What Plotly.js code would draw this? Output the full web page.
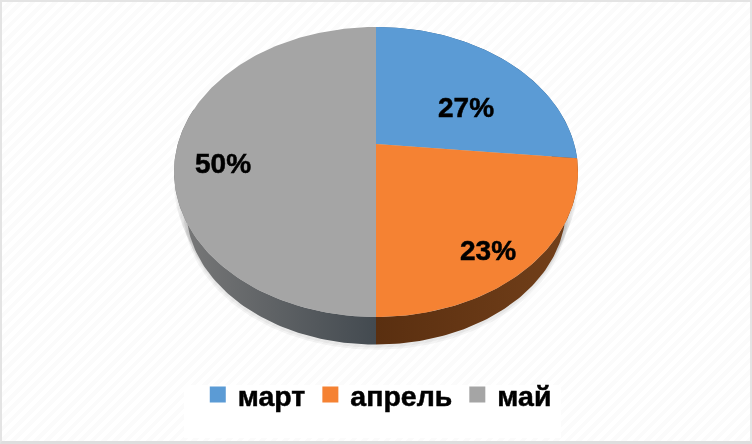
<!DOCTYPE html>
<html><head><meta charset="utf-8">
<script src="https://cdn.plot.ly/plotly-3.0.0.min.js"></script>
<style>
html,body{margin:0;padding:0;width:752px;height:444px;overflow:hidden;background:#fff}
#frame{position:absolute;left:0;top:0;width:752px;height:444px;box-sizing:border-box;
 border:2px solid #e4e4e4;border-bottom:3px solid #dedede;
 background:repeating-linear-gradient(135deg,#ffffff 0 4px,#fbfbfb 4px 8px)}
#chart{position:absolute;left:0;top:0;width:752px;height:444px;filter:blur(0.45px)}
#chart .annotation-text,#chart .legendtext{stroke:#000;stroke-width:0.5px}
</style></head><body><div id="frame"></div><div id="chart"></div>
<script>
var categories = ['март','апрель','май'];
var values = [26.6, 23.4, 50];
var colors = ['#5B9BD5','#F58233','#A5A5A5'];
var wallStops = [['#2f5f8c','#2f5f8c'],['#5a2f10','#73401a'],['#7a7a7a','#434a50']];
var labelX = [466,488,223];
var labelY = [107,250,163];

var cx=376, cy=144, rimC=198.2, rimB=139.6, k=0.193, wallScale=0.94, wallDrop=38;
function proj(thetaDeg, r, scale, drop){
  var t=thetaDeg*Math.PI/180, u=r*Math.sin(t), v=r*Math.cos(t), d=1+k*v;
  return [cx+rimC*scale*u/d, cy+drop-rimB*scale*v/d];
}
function arc(a,b,scale,drop){
  var n=Math.max(2,Math.ceil(Math.abs(b-a))), out=[];
  for(var i=0;i<=n;i++){out.push(proj(a+(b-a)*i/n,1,scale,drop));}
  return out;
}
function poly(pts,extra){
  var o={type:'scatter',mode:'lines',x:pts.map(function(p){return p[0]}),y:pts.map(function(p){return p[1]}),
    fill:'toself',line:{width:0},hoverinfo:'skip',showlegend:false};
  for(var e in extra)o[e]=extra[e];
  return o;
}
var total=values.reduce(function(a,b){return a+b},0), traces=[], start=0, spans=[];
values.forEach(function(v){var s=v/total*360;spans.push([start,start+s]);start+=s;});

// soft shadow under the disc
[[1.0,12],[0.99,18],[0.975,26],[0.96,33]].forEach(function(g){
  traces.push(poly(arc(0,360,g[0],g[1]),{fillcolor:'rgba(60,60,60,0.05)'}));
});
[[wallScale+0.012,wallDrop+3],[wallScale+0.006,wallDrop+2]].forEach(function(g){
  traces.push(poly(arc(0,360,g[0],g[1]),{fillcolor:'rgba(60,60,60,0.06)'}));
});
// side walls
spans.forEach(function(s,i){
  var a=s[0], b=Math.min(s[1],285);
  if(a>=b) return;
  var pts=arc(a,b,1,0).concat(arc(b,a,wallScale,wallDrop));
  var xs=pts.map(function(p){return p[0]});
  var left=i==2;
  traces.push(poly(pts,{fillcolor:wallStops[i][1],
    fillgradient:{type:'horizontal',start:left?Math.min.apply(null,xs):cx,stop:left?cx:Math.max.apply(null,xs),
      colorscale:[[0,wallStops[i][0]],[1,wallStops[i][1]]]}}));
});
// top slices
spans.forEach(function(s,i){
  var pts=[[cx,cy]].concat(arc(s[0],s[1],1,0));pts.push([cx,cy]);
  traces.push(poly(pts,{fillcolor:colors[i]}));
});
// legend entries
categories.forEach(function(c,i){
  traces.push({type:'scatter',mode:'markers',x:[null],y:[null],name:c,showlegend:true,
    marker:{symbol:'square',size:17,color:colors[i]},hoverinfo:'skip'});
});
var font='"Liberation Sans",Arial,sans-serif';
var layout={width:752,height:444,margin:{l:0,r:0,t:0,b:0},paper_bgcolor:'rgba(0,0,0,0)',plot_bgcolor:'rgba(0,0,0,0)',
  xaxis:{range:[0,752],visible:false,fixedrange:true},
  yaxis:{range:[444,0],visible:false,fixedrange:true},
  showlegend:true,
  legend:{orientation:'h',x:0.263,xanchor:'left',y:0.053,yanchor:'bottom',bgcolor:'rgba(0,0,0,0)',
    font:{family:font,size:28.5,color:'#000',weight:700},traceorder:'normal'},
  shapes:[{type:'rect',xref:'x',yref:'y',x0:184,x1:561,y0:385,y1:438,fillcolor:'#ffffff',line:{width:0},layer:'below'}],
  annotations:categories.map(function(c,i){
    return {x:labelX[i],y:labelY[i],xref:'x',yref:'y',showarrow:false,
      text:'<b>'+Math.round(values[i]/total*100)+'%</b>',
      font:{family:font,size:28,color:'#000'}};
  })
};
Plotly.newPlot('chart',traces,layout,{displayModeBar:false,staticPlot:true});
</script></body></html>
